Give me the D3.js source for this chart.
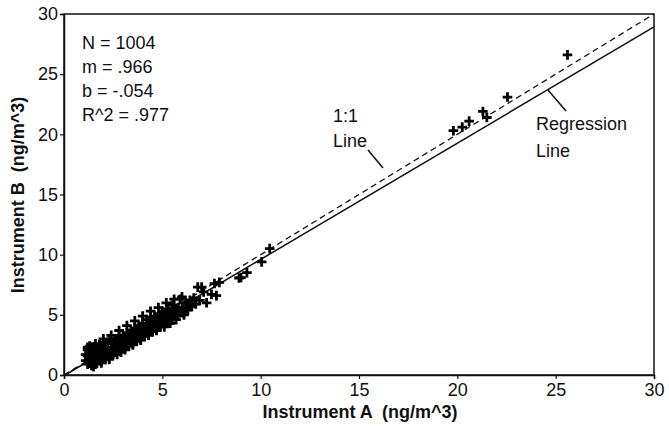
<!DOCTYPE html>
<html><head><meta charset="utf-8">
<script src="https://cdn.jsdelivr.net/npm/d3@7"></script>
<style>body{margin:0;background:#fff}svg{display:block}text{font-family:"Liberation Sans",Arial,sans-serif;fill:#111}</style>
</head><body><svg id="c" width="669" height="426"></svg>
<script>
const instrumentA = [1.1,1.2,1.2,1.3,1.3,1.4,1.4,1.5,1.5,1.2,1.1,1.3,1.6,1.6,1.7,1.7,1.8,1.8,1.9,1.9,2.0,2.0,2.1,2.1,2.2,2.2,2.3,2.3,2.4,2.4,2.5,2.5,2.6,2.6,2.7,2.7,2.8,2.8,2.9,2.9,3.0,3.0,3.1,3.1,3.2,3.2,3.3,3.3,3.4,3.4,3.5,3.5,3.6,3.6,3.7,3.7,3.8,3.8,3.9,3.9,4.0,4.0,4.1,4.1,4.2,4.2,4.3,4.3,4.4,4.4,4.5,4.5,4.6,4.6,4.7,4.7,4.8,4.8,4.9,4.9,5.0,5.0,5.1,5.1,5.2,5.3,5.3,5.4,5.5,5.5,5.6,5.7,5.8,5.9,6.0,6.0,6.1,6.2,6.3,6.4,6.5,6.6,6.7,6.8,6.9,7.0,7.1,7.25,7.5,7.75,7.65,7.9,8.9,9.0,9.3,10.05,10.46,
1.3,1.4,1.5,1.6,1.7,1.8,1.9,2.0,2.1,2.2,2.3,2.4,2.5,2.6,2.7,2.8,2.9,3.0,3.1,3.2,3.3,3.4,3.5,3.6,3.7,3.8,3.9,4.0,4.1,4.2,4.3,4.4,4.5,4.6,4.7,4.8,4.9,5.0,5.2,5.4,5.6,5.8,6.2,6.4,
1.2,1.6,2.0,2.4,2.8,3.2,3.6,4.0,4.4,4.8,5.2,5.6,
1.5,1.9,2.3,2.7,3.1,3.5,3.9,4.3,4.7,5.1,5.4,5.7,6.1,
19.8,20.25,20.6,21.3,21.5,22.55,25.6];
const instrumentB = [1.2,0.9,1.6,2.0,1.3,0.8,1.8,2.3,1.1,2.1,1.7,2.4,1.5,0.9,2.0,1.3,2.5,1.7,1.1,2.2,1.6,2.7,1.3,2.1,2.6,1.8,1.4,2.9,2.2,1.9,2.7,1.7,2.3,3.0,2.0,2.6,3.2,2.3,1.9,2.8,3.3,2.5,2.2,3.0,3.5,2.7,2.4,3.2,3.7,2.9,2.6,3.4,3.9,3.1,2.8,3.6,4.1,3.3,3.0,3.8,4.3,3.5,3.2,4.0,4.6,3.7,3.4,4.2,4.8,3.9,3.6,4.4,4.9,4.1,3.8,4.6,5.1,4.3,4.0,4.8,5.3,4.5,4.2,5.0,4.7,5.5,4.4,5.2,4.6,5.8,5.0,5.4,4.9,6.3,5.6,6.5,5.2,6.0,5.4,6.2,5.7,6.4,5.9,7.3,6.2,7.3,6.9,6.0,6.7,6.6,7.6,7.7,8.06,8.1,8.5,9.4,10.5,
1.5,1.2,1.7,2.0,1.6,1.2,1.8,2.2,1.7,2.3,2.0,2.6,2.2,1.9,3.0,2.7,2.4,2.9,2.6,3.1,2.8,3.3,3.0,3.5,3.2,3.7,3.4,3.9,3.6,4.2,3.8,4.4,4.0,4.5,4.2,4.7,4.4,4.9,5.2,4.8,5.5,5.6,5.6,5.8,
2.3,2.6,3.0,3.3,3.7,4.1,4.5,4.9,5.3,5.6,6.0,6.3,
0.7,1.0,1.3,1.7,2.1,2.5,2.9,3.3,3.7,4.0,4.3,4.6,5.0,
20.3,20.6,21.1,21.9,21.4,23.1,26.6];
const xTicks = [0,5,10,15,20,25,30];
const yTicks = [0,5,10,15,20,25,30];
const slope = 0.966, intercept = -0.054;
const stats = ["N = 1004","m = .966","b = -.054","R^2 = .977"];

const svg = d3.select("#c");
const L=64, T=14, R=654, B=375;
const x = d3.scaleLinear().domain([0,30]).range([L,R]);
const y = d3.scaleLinear().domain([0,30]).range([B,T]);

svg.append("rect").attr("x",L).attr("y",T).attr("width",R-L).attr("height",B-T)
  .attr("fill","none").attr("stroke","#111").attr("stroke-width",1.5);

const xa = svg.append("g").attr("transform",`translate(0,${B})`)
  .call(d3.axisBottom(x).tickValues(xTicks).tickSize(4).tickPadding(4).tickFormat(d3.format("d")));
const ya = svg.append("g").attr("transform",`translate(${L},0)`)
  .call(d3.axisLeft(y).tickValues(yTicks).tickSize(4).tickPadding(2).tickFormat(d3.format("d")));
[xa,ya].forEach(a=>{a.select(".domain").attr("stroke","#111").attr("stroke-width",1.5);
  a.selectAll("line").attr("stroke","#111").attr("stroke-width",1.2);
  a.selectAll("text").attr("font-size",18).attr("fill","#111").style("font-family","Liberation Sans, Arial, sans-serif");});

svg.append("line").attr("x1",x(0)).attr("y1",y(0)).attr("x2",x(30)).attr("y2",y(30))
  .attr("stroke","#111").attr("stroke-width",1.3).attr("stroke-dasharray","6,4");
const rx0 = -intercept/slope;
svg.append("line").attr("x1",x(rx0)).attr("y1",y(0)).attr("x2",x(30)).attr("y2",y(slope*30+intercept))
  .attr("stroke","#111").attr("stroke-width",1.5);

const pts = instrumentA.map((a,i)=>[a,instrumentB[i]]);
svg.append("g").selectAll("path").data(pts).join("path")
  .attr("d",d=>{const cx=x(d[0]),cy=y(d[1]),s=4.8;return `M${cx-s},${cy}H${cx+s}M${cx},${cy-s}V${cy+s}`;})
  .attr("stroke","#000").attr("stroke-width",2.8).attr("fill","none");

svg.append("g").selectAll("text").data(stats).join("text")
  .attr("x",82).attr("y",(d,i)=>49+i*24).attr("font-size",18).text(d=>d);

svg.append("text").attr("x",333).attr("y",122).attr("font-size",18).text("1:1");
svg.append("text").attr("x",333).attr("y",147).attr("font-size",18).text("Line");
svg.append("line").attr("x1",368).attr("y1",150).attr("x2",383).attr("y2",168).attr("stroke","#111").attr("stroke-width",1.5);
svg.append("text").attr("x",536).attr("y",130).attr("font-size",18).text("Regression");
svg.append("text").attr("x",536).attr("y",157).attr("font-size",18).text("Line");
svg.append("line").attr("x1",548).attr("y1",90).attr("x2",566).attr("y2",111).attr("stroke","#111").attr("stroke-width",1.5);

svg.append("text").attr("x",360).attr("y",418).attr("text-anchor","middle").style("white-space","pre")
  .attr("font-size",18).attr("font-weight","bold").text("Instrument A  (ng/m^3)");
svg.append("text").attr("transform","translate(24,195) rotate(-90)").attr("text-anchor","middle").style("white-space","pre")
  .attr("font-size",18).attr("font-weight","bold").text("Instrument B  (ng/m^3)");
</script></body></html>
